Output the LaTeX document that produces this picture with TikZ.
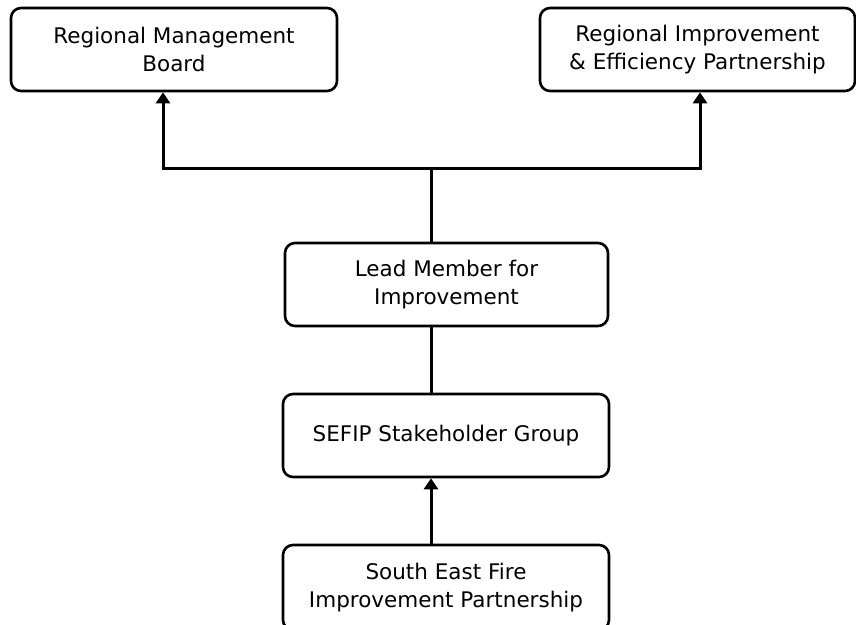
\documentclass[tikz,border=0pt]{standalone}
\usepackage{fontspec}
\setmainfont{DejaVu Sans}
\usetikzlibrary{arrows.meta}

\begin{document}
\begin{tikzpicture}[x=1pt,y=-1pt]
\useasboundingbox (0,0) rectangle (856,624);
\begin{scope}[every node/.style={draw,line width=2.6pt,rounded corners=10pt,
                                 align=center,inner sep=0pt,minimum height=83pt,
                                 font=\fontsize{21.5}{28}\selectfont}]
    \node[minimum width=326pt] (RMB) at (174,49.5) {Regional Management\\Board};
    \node[minimum width=315pt] (RIEP) at (697.5,49.5) {Regional Improvement\\\& Efficiency Partnership};
    \node[minimum width=323pt] (LMI) at (446.5,284.5) {Lead Member for\\Improvement};
    \node[minimum width=326pt] (SSG) at (446,435.5) {SEFIP Stakeholder Group};
    \node[minimum width=326pt,minimum height=85pt] (SEFIP) at (446,587.5) {South East Fire\\Improvement Partnership};
\end{scope}

\begin{scope}[>={Triangle[width=14pt,length=11pt]},
              every path/.style={line width=3pt}]
    \coordinate (J) at (431,168);
    % nach oben
    \draw (J |- LMI.north) -- (J);
    \draw [->] (J) -| ([xshift=-11pt]RMB.south);
    \draw [->] (J) -| ([xshift=2.5pt]RIEP.south);
    % Mitte
    \draw (J |- LMI.south) -- (J |- SSG.north);
    \draw [->] (J |- SEFIP.north) -- (J |- SSG.south);
\end{scope}
\end{tikzpicture}
\end{document}
